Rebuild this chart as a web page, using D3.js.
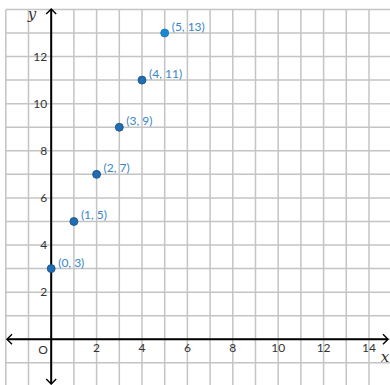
<!DOCTYPE html>
<html><head><meta charset="utf-8">
<script src="https://cdn.jsdelivr.net/npm/d3@7"></script>
<style>body{margin:0;background:#fff}svg{display:block}</style>
</head><body>
<script>
const xs = [0, 1, 2, 3, 4, 5];
const ys = [3, 5, 7, 9, 11, 13];
const pointLabels = ["(0, 3)", "(1, 5)", "(2, 7)", "(3, 9)", "(4, 11)", "(5, 13)"];
const xTicks = [2, 4, 6, 8, 10, 12, 14];
const yTicks = [2, 4, 6, 8, 10, 12];
const xGrid = d3.range(-2, 16);
const yGrid = d3.range(-2, 15);

const W = 390, H = 385;
const svg = d3.select("body").append("svg").attr("width", W).attr("height", H);
const x = d3.scaleLinear().domain([0, 14]).range([51.2, 369.0]);
const y = d3.scaleLinear().domain([0, 13]).range([339.3, 33.0]);

const gridTop = y(14), gridLeft = x(-2);
svg.append("g").selectAll("line").data(xGrid).join("line")
  .attr("x1", d => x(d)).attr("x2", d => x(d))
  .attr("y1", gridTop).attr("y2", H)
  .attr("stroke", "#c4c4c4").attr("stroke-width", 1.5);
svg.append("g").selectAll("line").data(yGrid).join("line")
  .attr("x1", gridLeft).attr("x2", W)
  .attr("y1", d => y(d)).attr("y2", d => y(d))
  .attr("stroke", "#c4c4c4").attr("stroke-width", 1.5);

// axes
const ax = svg.append("g").attr("stroke", "#000").attr("fill", "none").attr("stroke-width", 2);
ax.append("line").attr("x1", 7).attr("x2", 388).attr("y1", y(0)).attr("y2", y(0));
ax.append("line").attr("x1", x(0)).attr("x2", x(0)).attr("y1", 9).attr("y2", 384);
const a = 5;
ax.append("path").attr("stroke-width", 1.4).attr("d", `M${7 + a},${y(0) - a}L7,${y(0)}L${7 + a},${y(0) + a}`);
ax.append("path").attr("stroke-width", 1.4).attr("d", `M${388 - a},${y(0) - a}L388,${y(0)}L${388 - a},${y(0) + a}`);
ax.append("path").attr("stroke-width", 1.4).attr("d", `M${x(0) - a},${9 + a}L${x(0)},9L${x(0) + a},${9 + a}`);
ax.append("path").attr("stroke-width", 1.4).attr("d", `M${x(0) - a},${384 - a}L${x(0)},384L${x(0) + a},${384 - a}`);

const font = "Lato, 'Open Sans', sans-serif";
svg.append("g").selectAll("text").data(xTicks).join("text")
  .attr("x", d => x(d)).attr("y", y(0) + 13).attr("text-anchor", "middle")
  .attr("font-family", font).attr("font-size", 12).attr("fill", "#333").text(d => d);
svg.append("g").selectAll("text").data(yTicks).join("text")
  .attr("x", x(0) - 4).attr("y", d => y(d) + 4).attr("text-anchor", "end")
  .attr("font-family", font).attr("font-size", 12).attr("fill", "#333").text(d => d);
svg.append("text").attr("x", 43).attr("y", 354).attr("text-anchor", "middle")
  .attr("font-family", font).attr("font-size", 12).attr("fill", "#333").text("O");
svg.append("text").attr("x", 32).attr("y", 19).attr("text-anchor", "middle")
  .attr("font-family", "'DejaVu Serif', 'Liberation Serif', serif").attr("font-style", "italic")
  .attr("font-size", 15).attr("fill", "#333").text("y");
svg.append("text").attr("x", 385).attr("y", 362).attr("text-anchor", "middle")
  .attr("font-family", "'DejaVu Serif', 'Liberation Serif', serif").attr("font-style", "italic")
  .attr("font-size", 15).attr("fill", "#333").text("x");

// points
const pts = xs.map((v, i) => ({x: v, y: ys[i], label: pointLabels[i]}));
svg.append("g").selectAll("circle").data(pts).join("circle")
  .attr("cx", d => x(d.x)).attr("cy", d => y(d.y)).attr("r", 4)
  .attr("fill", (d, i) => i === pts.length - 1 ? "#1a88d0" : "#1f6db3")
  .attr("stroke", (d, i) => i === pts.length - 1 ? "#1578ba" : "#1a4f80").attr("stroke-width", 0.8);
svg.append("g").selectAll("text").data(pts).join("text")
  .attr("x", d => x(d.x) + 7).attr("y", d => y(d.y) - 2)
  .attr("font-family", font).attr("font-size", 12).attr("fill", "#3a86c8").text(d => d.label);
</script>
</body></html>
